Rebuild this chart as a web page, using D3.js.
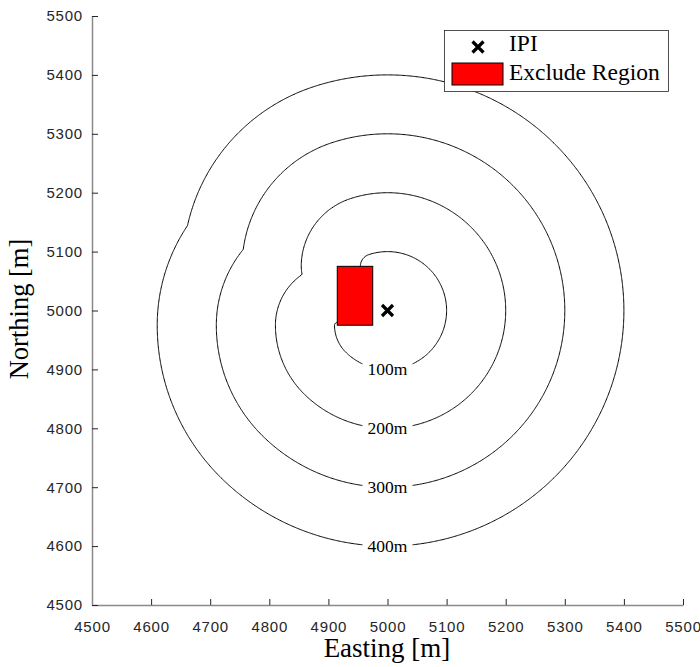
<!DOCTYPE html>
<html>
<head>
<meta charset="utf-8">
<script src="https://cdn.jsdelivr.net/npm/d3@7"></script>
<style>
  body { margin: 0; background: #fff; }
  .tick text { font-family: "Liberation Sans", Arial, sans-serif; font-size: 15px; letter-spacing: 0.8px; fill: #262626; }
  .tick line { stroke: #262626; }
  .domain { stroke: #8a8a8a; stroke-width: 1.5px; }
  .serif { font-family: "Liberation Serif", "Times New Roman", serif; fill: #000; }
</style>
</head>
<body>
<svg id="chart" width="700" height="667"></svg>
<script>
// axis ticks
var xTicks = [4500, 4600, 4700, 4800, 4900, 5000, 5100, 5200, 5300, 5400, 5500];
var yTicks = [4500, 4600, 4700, 4800, 4900, 5000, 5100, 5200, 5300, 5400, 5500];

// instantaneous point of impact and the excluded rectangle
var ipi = [5000, 5000];
var excludeX = [4915, 4975];
var excludeY = [4975, 5075];

// distance contours
var levels = [100, 200, 300, 400];
var levelLabels = ["100m", "200m", "300m", "400m"];

var svg = d3.select("#chart");

var xScale = d3.scaleLinear().domain([4500, 5500]).range([92, 683]);
var yScale = d3.scaleLinear().domain([4500, 5500]).range([605, 16]);

// shortest path distance around the rectangle
function blocked(p, q) {
  var e = 1e-7;
  var x0 = excludeX[0] + e,
    x1 = excludeX[1] - e,
    y0 = excludeY[0] + e,
    y1 = excludeY[1] - e;
  var dx = q[0] - p[0],
    dy = q[1] - p[1];
  var t0 = 0,
    t1 = 1;
  var P = [-dx, dx, -dy, dy];
  var Q = [p[0] - x0, x1 - p[0], p[1] - y0, y1 - p[1]];
  for (var k = 0; k < 4; k++) {
    if (P[k] === 0) {
      if (Q[k] < 0) return false;
    } else {
      var r = Q[k] / P[k];
      if (P[k] < 0) {
        if (r > t1) return false;
        if (r > t0) t0 = r;
      } else {
        if (r < t0) return false;
        if (r < t1) t1 = r;
      }
    }
  }
  return t1 - t0 > 1e-9;
}

function dist(a, b) {
  return Math.hypot(a[0] - b[0], a[1] - b[1]);
}

var nodes = [
  { p: ipi, d: 0 },
  { p: [excludeX[1], excludeY[1]], d: Infinity },
  { p: [excludeX[1], excludeY[0]], d: Infinity },
  { p: [excludeX[0], excludeY[1]], d: Infinity },
  { p: [excludeX[0], excludeY[0]], d: Infinity }
];
for (var it = 0; it < 5; it++) {
  nodes.forEach(function (a) {
    nodes.forEach(function (b) {
      if (a !== b && !blocked(a.p, b.p) && a.d + dist(a.p, b.p) < b.d) {
        b.d = a.d + dist(a.p, b.p);
      }
    });
  });
}

function field(x, y) {
  if (x > excludeX[0] && x < excludeX[1] && y > excludeY[0] && y < excludeY[1]) {
    var dl = x - excludeX[0],
      dr = excludeX[1] - x,
      db = y - excludeY[0],
      dt = excludeY[1] - y;
    var m = Math.min(dl, dr, db, dt);
    if (m === dl) x = excludeX[0];
    else if (m === dr) x = excludeX[1];
    else if (m === db) y = excludeY[0];
    else y = excludeY[1];
  }
  var p = [x, y];
  var best = Infinity;
  nodes.forEach(function (n) {
    if (!blocked(n.p, p)) best = Math.min(best, n.d + dist(n.p, p));
  });
  return best;
}

var step = 2;
var n = Math.round(1000 / step) + 1;
var values = new Array(n * n);
for (var j = 0; j < n; j++) {
  for (var i = 0; i < n; i++) {
    values[j * n + i] = -field(4500 + i * step, 4500 + j * step);
  }
}

var contours = d3
  .contours()
  .size([n, n])
  .thresholds(levels.map(function (l) { return -l; }))(values);

var proj = d3.geoTransform({
  point: function (gx, gy) {
    this.stream.point(
      xScale(4500 + step * (gx - 0.5)),
      yScale(4500 + step * (gy - 0.5))
    );
  }
});

svg
  .append("g")
  .selectAll("path")
  .data(contours)
  .enter()
  .append("path")
  .attr("d", d3.geoPath(proj))
  .attr("fill", "none")
  .attr("stroke", "#000")
  .attr("stroke-width", 1);

// contour labels
var lab = svg
  .append("g")
  .selectAll("g")
  .data(levels)
  .enter()
  .append("g")
  .attr("transform", function (d) {
    return "translate(" + xScale(ipi[0]) + "," + yScale(ipi[1] - d) + ")";
  });
lab
  .append("rect")
  .attr("x", -25)
  .attr("y", -8)
  .attr("width", 50)
  .attr("height", 16)
  .attr("fill", "#fff");
lab
  .append("text")
  .attr("class", "serif")
  .attr("text-anchor", "middle")
  .attr("y", 6)
  .style("font-size", "17.5px")
  .text(function (d, i) {
    return levelLabels[i];
  });

// exclude region
svg
  .append("rect")
  .attr("x", xScale(excludeX[0]))
  .attr("y", yScale(excludeY[1]))
  .attr("width", xScale(excludeX[1]) - xScale(excludeX[0]))
  .attr("height", yScale(excludeY[0]) - yScale(excludeY[1]))
  .attr("fill", "#ff0000")
  .attr("stroke", "#000")
  .attr("stroke-width", 1);

function cross(g, cx, cy) {
  var s = 5.5;
  g.append("path")
    .attr("d", "M" + (cx - s) + "," + (cy - s) + "L" + (cx + s) + "," + (cy + s) +
      "M" + (cx - s) + "," + (cy + s) + "L" + (cx + s) + "," + (cy - s))
    .attr("stroke", "#000")
    .attr("stroke-width", 3.2)
    .attr("fill", "none");
}
cross(svg, xScale(ipi[0]), yScale(ipi[1]));

// axes
svg
  .append("g")
  .attr("transform", "translate(0," + yScale(4500) + ")")
  .call(d3.axisBottom(xScale).tickValues(xTicks).tickFormat(d3.format("d")).tickSize(-6).tickSizeOuter(0).tickPadding(16));
svg
  .append("g")
  .attr("transform", "translate(" + xScale(4500) + ",0)")
  .call(d3.axisLeft(yScale).tickValues(yTicks).tickFormat(d3.format("d")).tickSize(-6).tickSizeOuter(0).tickPadding(9));

svg
  .append("text")
  .attr("class", "serif")
  .attr("x", 387)
  .attr("y", 657)
  .attr("text-anchor", "middle")
  .style("font-size", "27px")
  .text("Easting [m]");
svg
  .append("text")
  .attr("class", "serif")
  .attr("transform", "translate(28,309)rotate(-90)")
  .attr("text-anchor", "middle")
  .style("font-size", "26.5px")
  .text("Northing [m]");

// legend
var legend = svg.append("g");
legend
  .append("rect")
  .attr("x", 444.5)
  .attr("y", 30.5)
  .attr("width", 224)
  .attr("height", 61)
  .attr("fill", "#fff")
  .attr("stroke", "#262626")
  .attr("stroke-width", 0.8);
cross(legend, 478, 47);
legend
  .append("rect")
  .attr("x", 452)
  .attr("y", 63)
  .attr("width", 51)
  .attr("height", 22)
  .attr("fill", "#ff0000")
  .attr("stroke", "#000")
  .attr("stroke-width", 1);
legend
  .append("text")
  .attr("class", "serif")
  .attr("x", 509)
  .attr("y", 50.5)
  .style("font-size", "23.5px")
  .text("IPI");
legend
  .append("text")
  .attr("class", "serif")
  .attr("x", 509)
  .attr("y", 79.5)
  .style("font-size", "23.5px")
  .text("Exclude Region");
</script>
</body>
</html>
